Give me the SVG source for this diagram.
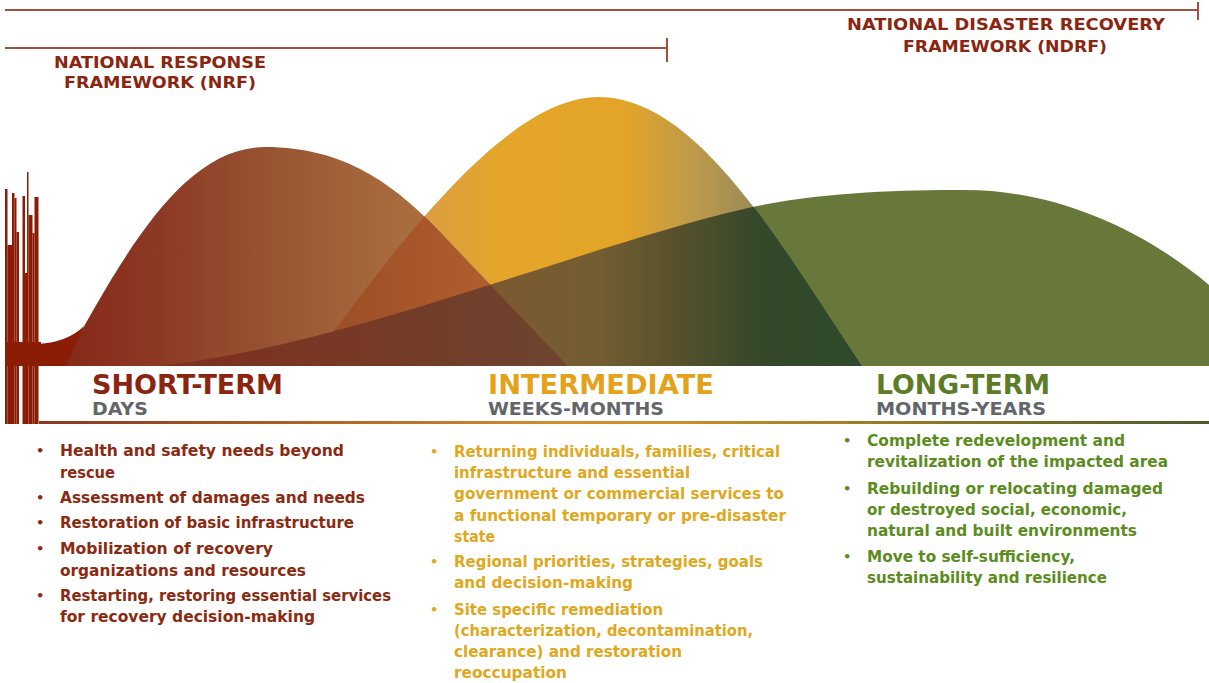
<svg xmlns="http://www.w3.org/2000/svg" xmlns:xlink="http://www.w3.org/1999/xlink" width="1209" height="683" viewBox="0 0 1209 683">
<style>
.hdr{font-family:"DejaVu Sans","Liberation Sans",sans-serif;font-weight:bold;font-size:16px;fill:#8a2510}
.phase{font-family:"DejaVu Sans","Liberation Sans",sans-serif;font-weight:bold;font-size:26px}
.sub{font-family:"DejaVu Sans","Liberation Sans",sans-serif;font-weight:bold;font-size:17px;fill:#62666b}
.b{font-family:"DejaVu Sans","Liberation Sans",sans-serif;font-weight:bold;font-size:16px}
.dot{font-family:"DejaVu Sans",sans-serif;font-weight:bold;font-size:13px}
.c1{fill:#8b2a12}.c2{fill:#dfa820}.c3{fill:#5b8c1e}
.tl{stroke:#a2503c;stroke-width:2;fill:none}
.bar{fill:#8b1c05}
</style>
<defs>
<path id="pB" d="M 62,366 C 120,262 180,147 265,147 C 345,147 395,185 440,232 C 490,285 530,325 568,366 Z"/>
<path id="pY" d="M 308,366 C 380,270 500,97 598,97 C 668,97 725,170 760,215 C 795,262 830,318 862,366 Z"/>
<path id="pG" d="M 160,366 C 350,345 588,244 748,208 C 820,192 900,190 965,190 C 1050,190 1140,225 1215,290 L 1215,366 Z"/>
<clipPath id="cY"><use href="#pY"/></clipPath>
<clipPath id="cG"><use href="#pG"/></clipPath>
<linearGradient id="gB" gradientUnits="userSpaceOnUse" x1="60" y1="0" x2="570" y2="0">
<stop offset="0" stop-color="#852818"/><stop offset="0.2" stop-color="#8c3a24"/><stop offset="0.4" stop-color="#985232"/><stop offset="0.67" stop-color="#a96c3e"/><stop offset="1" stop-color="#b07040"/>
</linearGradient>
<linearGradient id="gY" gradientUnits="userSpaceOnUse" x1="420" y1="0" x2="760" y2="0">
<stop offset="0" stop-color="#dc9d42"/><stop offset="0.24" stop-color="#e4a52a"/><stop offset="0.6" stop-color="#e3a527"/><stop offset="0.8" stop-color="#bf9a4a"/><stop offset="1" stop-color="#968a58"/>
</linearGradient>
<linearGradient id="gYG" gradientUnits="userSpaceOnUse" x1="300" y1="0" x2="862" y2="0">
<stop offset="0" stop-color="#7e4a28"/><stop offset="0.36" stop-color="#7a5a30"/><stop offset="0.53" stop-color="#745d32"/><stop offset="0.68" stop-color="#55502c"/><stop offset="0.82" stop-color="#34482a"/><stop offset="1" stop-color="#2e4a2a"/>
</linearGradient>
<linearGradient id="gBY" gradientUnits="userSpaceOnUse" x1="300" y1="0" x2="570" y2="0">
<stop offset="0" stop-color="#9a4a26"/><stop offset="0.48" stop-color="#a8582a"/><stop offset="0.74" stop-color="#b0602e"/><stop offset="1" stop-color="#b46532"/>
</linearGradient>
<linearGradient id="gBG" gradientUnits="userSpaceOnUse" x1="150" y1="0" x2="570" y2="0">
<stop offset="0" stop-color="#7e2e1e"/><stop offset="0.36" stop-color="#7a3624"/><stop offset="0.71" stop-color="#713e2a"/><stop offset="1" stop-color="#6e4530"/>
</linearGradient>
<linearGradient id="gLine" gradientUnits="userSpaceOnUse" x1="38" y1="0" x2="1209" y2="0">
<stop offset="0" stop-color="#8a3520"/><stop offset="0.45" stop-color="#d09030"/><stop offset="0.55" stop-color="#c89028"/><stop offset="1" stop-color="#4d5a2a"/>
</linearGradient>
</defs>
<rect width="1209" height="683" fill="#ffffff"/>

<g id="connectors">
<path class="tl" d="M5,10 H1198 M1198,2 V20"/>
<path class="tl" d="M5,48 H667 M667,38 V62"/>
</g>

<g id="nrf-header">
<text class="hdr" x="54" y="68" textLength="212" lengthAdjust="spacingAndGlyphs">NATIONAL RESPONSE</text>
<text class="hdr" x="64" y="88" textLength="192" lengthAdjust="spacingAndGlyphs">FRAMEWORK (NRF)</text>
</g>
<g id="ndrf-header">
<text class="hdr" x="847" y="30" textLength="318" lengthAdjust="spacingAndGlyphs">NATIONAL DISASTER RECOVERY</text>
<text class="hdr" x="903" y="52" textLength="204" lengthAdjust="spacingAndGlyphs">FRAMEWORK (NDRF)</text>
</g>

<g id="curves">
<use href="#pG" fill="#68773a"/>
<use href="#pY" fill="url(#gY)"/>
<use href="#pY" fill="url(#gYG)" clip-path="url(#cG)"/>
<use href="#pB" fill="url(#gB)"/>
<use href="#pB" fill="url(#gBY)" clip-path="url(#cY)"/>
<use href="#pB" fill="url(#gBG)" clip-path="url(#cG)"/>
<path class="bar" d="M 38,344 Q 68,342 84,326 L 66,366 L 38,366 Z"/>
</g>

<g id="disaster-bars">
<rect class="bar" x="5" y="189" width="2.5" height="235"/>
<rect class="bar" x="7.5" y="245" width="4.5" height="179"/>
<rect class="bar" x="12" y="193" width="2.5" height="231"/>
<rect class="bar" x="14.5" y="198" width="2" height="226"/>
<rect class="bar" x="16.5" y="232" width="2.5" height="192"/>
<rect class="bar" x="22.5" y="196" width="2.5" height="228"/>
<rect class="bar" x="25" y="273" width="2" height="151"/>
<rect class="bar" x="27" y="172" width="1.5" height="252"/>
<rect class="bar" x="28.5" y="215" width="4" height="209"/>
<rect class="bar" x="32.5" y="233" width="2" height="191"/>
<rect class="bar" x="34.5" y="197" width="4" height="227"/>
<rect class="bar" x="5" y="342" width="36" height="24"/>
</g>

<g id="band">
<rect x="39" y="366" width="1170" height="56" fill="#ffffff"/>
<rect x="39" y="421" width="1170" height="3" fill="url(#gLine)"/>
</g>

<g id="short-term">
<text class="phase" x="92" y="394" fill="#8b2510" textLength="191" lengthAdjust="spacingAndGlyphs">SHORT-TERM</text>
<text class="sub" x="92" y="415" textLength="56" lengthAdjust="spacingAndGlyphs">DAYS</text>
<g class="c1">
<text class="dot" x="36" y="455">•</text>
<text class="dot" x="36" y="502">•</text>
<text class="dot" x="36" y="527">•</text>
<text class="dot" x="36" y="553">•</text>
<text class="dot" x="36" y="600">•</text>
<text class="b" x="60" y="456" textLength="284" lengthAdjust="spacingAndGlyphs">Health and safety needs beyond</text>
<text class="b" x="60" y="478" textLength="55" lengthAdjust="spacingAndGlyphs">rescue</text>
<text class="b" x="60" y="503" textLength="305" lengthAdjust="spacingAndGlyphs">Assessment of damages and needs</text>
<text class="b" x="60" y="528" textLength="294" lengthAdjust="spacingAndGlyphs">Restoration of basic infrastructure</text>
<text class="b" x="60" y="554" textLength="213" lengthAdjust="spacingAndGlyphs">Mobilization of recovery</text>
<text class="b" x="60" y="576" textLength="246" lengthAdjust="spacingAndGlyphs">organizations and resources</text>
<text class="b" x="60" y="601" textLength="331" lengthAdjust="spacingAndGlyphs">Restarting, restoring essential services</text>
<text class="b" x="60" y="622" textLength="255" lengthAdjust="spacingAndGlyphs">for recovery decision-making</text>
</g>
</g>

<g id="intermediate">
<text class="phase" x="488" y="394" fill="#e3a21a" textLength="226" lengthAdjust="spacingAndGlyphs">INTERMEDIATE</text>
<text class="sub" x="488" y="415" textLength="176" lengthAdjust="spacingAndGlyphs">WEEKS-MONTHS</text>
<g class="c2">
<text class="dot" x="430" y="456">•</text>
<text class="dot" x="430" y="566">•</text>
<text class="dot" x="430" y="614">•</text>
<text class="b" x="454" y="457" textLength="326" lengthAdjust="spacingAndGlyphs">Returning individuals, families, critical</text>
<text class="b" x="454" y="478" textLength="236" lengthAdjust="spacingAndGlyphs">infrastructure and essential</text>
<text class="b" x="454" y="499" textLength="330" lengthAdjust="spacingAndGlyphs">government or commercial services to</text>
<text class="b" x="454" y="521" textLength="332" lengthAdjust="spacingAndGlyphs">a functional temporary or pre-disaster</text>
<text class="b" x="454" y="542" textLength="41" lengthAdjust="spacingAndGlyphs">state</text>
<text class="b" x="454" y="567" textLength="309" lengthAdjust="spacingAndGlyphs">Regional priorities, strategies, goals</text>
<text class="b" x="454" y="588" textLength="179" lengthAdjust="spacingAndGlyphs">and decision-making</text>
<text class="b" x="454" y="615" textLength="209" lengthAdjust="spacingAndGlyphs">Site specific remediation</text>
<text class="b" x="454" y="636" textLength="299" lengthAdjust="spacingAndGlyphs">(characterization, decontamination,</text>
<text class="b" x="454" y="657" textLength="228" lengthAdjust="spacingAndGlyphs">clearance) and restoration</text>
<text class="b" x="454" y="678" textLength="113" lengthAdjust="spacingAndGlyphs">reoccupation</text>
</g>
</g>

<g id="long-term">
<text class="phase" x="876" y="394" fill="#5e7c28" textLength="174" lengthAdjust="spacingAndGlyphs">LONG-TERM</text>
<text class="sub" x="876" y="415" textLength="170" lengthAdjust="spacingAndGlyphs">MONTHS-YEARS</text>
<g class="c3">
<text class="dot" x="843" y="445">•</text>
<text class="dot" x="843" y="493">•</text>
<text class="dot" x="843" y="561">•</text>
<text class="b" x="867" y="446" textLength="258" lengthAdjust="spacingAndGlyphs">Complete redevelopment and</text>
<text class="b" x="867" y="467" textLength="301" lengthAdjust="spacingAndGlyphs">revitalization of the impacted area</text>
<text class="b" x="867" y="494" textLength="296" lengthAdjust="spacingAndGlyphs">Rebuilding or relocating damaged</text>
<text class="b" x="867" y="515" textLength="260" lengthAdjust="spacingAndGlyphs">or destroyed social, economic,</text>
<text class="b" x="867" y="536" textLength="270" lengthAdjust="spacingAndGlyphs">natural and built environments</text>
<text class="b" x="867" y="562" textLength="208" lengthAdjust="spacingAndGlyphs">Move to self-sufficiency,</text>
<text class="b" x="867" y="583" textLength="240" lengthAdjust="spacingAndGlyphs">sustainability and resilience</text>
</g>
</g>
</svg>
